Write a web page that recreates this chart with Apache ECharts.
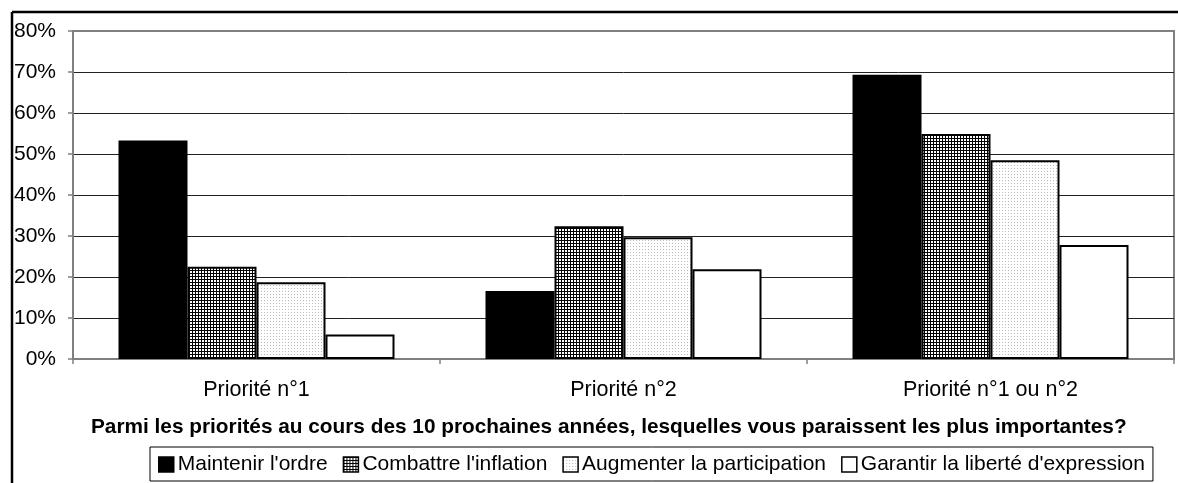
<!DOCTYPE html>
<html>
<head>
<meta charset="utf-8">
<script src="https://cdn.jsdelivr.net/npm/echarts@6/dist/echarts.min.js"></script>
<style>
    html, body { margin: 0; padding: 0; background: #fff; }
    #chart { width: 1178px; height: 483px; }
</style>
</head>
<body>
<div id="chart"></div>
<script>
    var categories = ['Priorité n°1', 'Priorité n°2', 'Priorité n°1 ou n°2'];
    var seriesNames = ["Maintenir l'ordre", "Combattre l'inflation", "Augmenter la participation", "Garantir la liberté d'expression"];
    var ordre = [53.3, 16.6, 69.3];
    var inflation = [22.5, 32.4, 54.9];
    var participation = [18.7, 29.7, 48.5];
    var expression = [6.0, 21.9, 27.8];
    var yTicks = [0, 10, 20, 30, 40, 50, 60, 70, 80];

    // motifs de remplissage (trame fine, pointillé léger)
    var makePattern = function (size, bg, dots, dotColor) {
        var c = document.createElement('canvas');
        c.width = size;
        c.height = size;
        var ctx = c.getContext('2d');
        ctx.fillStyle = bg;
        ctx.fillRect(0, 0, size, size);
        ctx.fillStyle = dotColor;
        dots.forEach(function (d) { ctx.fillRect(d[0], d[1], 1, 1); });
        return { image: c, repeat: 'repeat' };
    };
    var gridPattern = makePattern(3, '#000', [[1, 1], [1, 2], [2, 1], [2, 2]], '#fff');
    var dotPattern = makePattern(3, '#fff', [[0, 0]], '#bbb');

    var font = 'Liberation Sans, Arial, sans-serif';
    var myChart = echarts.init(document.getElementById('chart'));

    var barStyle = function (color) {
        return {
            color: color,
            borderColor: '#000',
            borderWidth: 2
        };
    };

    var option = {
        animation: false,
        backgroundColor: '#fff',
        textStyle: { fontFamily: font },
        title: {
            text: 'Parmi les priorités au cours des 10 prochaines années, lesquelles vous paraissent les plus importantes?',
            left: 91,
            top: 417,
            padding: 0,
            textStyle: { fontSize: 20.8, fontWeight: 'bold', color: '#000', fontFamily: font }
        },
        legend: {
            data: seriesNames,
            left: 150,
            top: 447,
            padding: [7, 8, 6, 8],
            itemGap: 15,
            itemWidth: 15,
            itemHeight: 15,
            icon: 'rect',
            borderColor: '#000',
            borderWidth: 1,
            backgroundColor: '#fff',
            itemStyle: { borderColor: '#000', borderWidth: 1.5 },
            textStyle: { fontSize: 21, color: '#000', fontFamily: font, padding: [0, 0, 0, -1] }
        },
        grid: {
            left: 73,
            right: 4,
            top: 31,
            bottom: 124,
            show: true,
            borderColor: '#808080',
            borderWidth: 2
        },
        graphic: [
            { type: 'line', shape: { x1: 12, y1: 12, x2: 1178, y2: 12 }, style: { stroke: '#000', lineWidth: 2.5 } },
            { type: 'line', shape: { x1: 12, y1: 12, x2: 12, y2: 483 }, style: { stroke: '#000', lineWidth: 2.5 } }
        ],
        xAxis: {
            type: 'category',
            data: categories,
            axisLine: { show: true, lineStyle: { color: '#808080', width: 2 } },
            axisTick: { show: true, length: 5, lineStyle: { color: '#808080', width: 1.5 } },
            axisLabel: { color: '#000', fontSize: 21.5, margin: 20, fontFamily: font },
            splitLine: { show: false }
        },
        yAxis: {
            type: 'value',
            min: yTicks[0],
            max: yTicks[yTicks.length - 1],
            interval: 10,
            axisLine: { show: true, lineStyle: { color: '#808080', width: 2 } },
            axisTick: { show: true, length: 5, lineStyle: { color: '#808080', width: 1.5 } },
            axisLabel: {
                color: '#000',
                fontSize: 21,
                margin: 17,
                fontFamily: font,
                formatter: function (v) { return v + '%'; }
            },
            splitLine: {
                show: true,
                showMaxLine: false,
                lineStyle: { color: '#222', width: 1 }
            }
        },
        series: [{
            name: seriesNames[0],
            type: 'bar',
            barWidth: 69,
            barGap: 0,
            itemStyle: barStyle('#000'),
            data: ordre
        }, {
            name: seriesNames[1],
            type: 'bar',
            barWidth: 69,
            barGap: 0,
            itemStyle: barStyle(gridPattern),
            data: inflation
        }, {
            name: seriesNames[2],
            type: 'bar',
            barWidth: 69,
            barGap: 0,
            itemStyle: barStyle(dotPattern),
            data: participation
        }, {
            name: seriesNames[3],
            type: 'bar',
            barWidth: 69,
            barGap: 0,
            itemStyle: barStyle('#fff'),
            data: expression
        }]
    };
    myChart.setOption(option);
</script>
</body>
</html>
